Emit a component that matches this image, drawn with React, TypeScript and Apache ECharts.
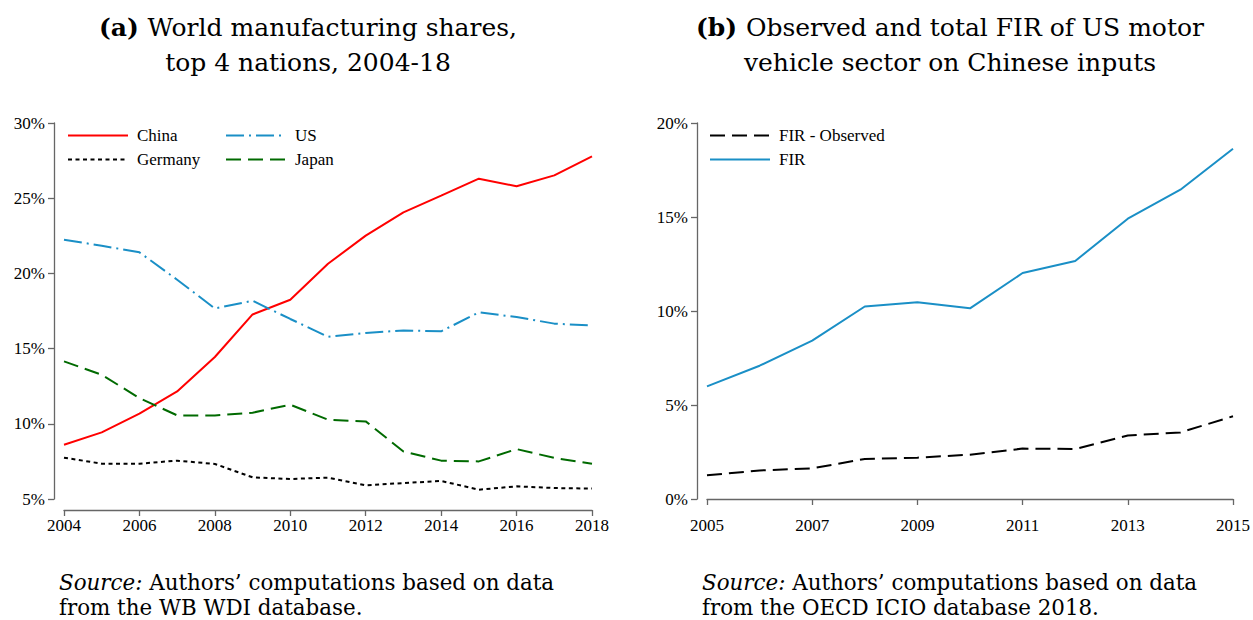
import React, { useEffect, useRef } from 'react';
import * as echarts from 'echarts';

const yearsA = ['2004','2005','2006','2007','2008','2009','2010','2011','2012','2013','2014','2015','2016','2017','2018'];
const china = [8.61, 9.43, 10.67, 12.15, 14.44, 17.27, 18.25, 20.64, 22.51, 24.06, 25.17, 26.30, 25.79, 26.52, 27.78];
const us = [22.24, 21.84, 21.4, 19.58, 17.67, 18.18, 16.97, 15.79, 16.04, 16.21, 16.15, 17.41, 17.1, 16.66, 16.54];
const germany = [7.75, 7.35, 7.35, 7.55, 7.33, 6.44, 6.33, 6.42, 5.91, 6.06, 6.2, 5.62, 5.84, 5.73, 5.69];
const japan = [14.15, 13.26, 11.71, 10.56, 10.56, 10.74, 11.27, 10.27, 10.16, 8.16, 7.55, 7.5, 8.32, 7.73, 7.35];

const yearsB = ['2005','2006','2007','2008','2009','2010','2011','2012','2013','2014','2015'];
const firObserved = [1.26, 1.52, 1.63, 2.13, 2.2, 2.36, 2.68, 2.66, 3.38, 3.54, 4.4];
const firTotal = [5.99, 7.09, 8.42, 10.24, 10.46, 10.14, 12.02, 12.66, 14.91, 16.45, 18.63];

const titleA = ['(a)', 'World manufacturing shares,', 'top 4 nations, 2004-18'];
const titleB = ['(b)', 'Observed and total FIR of US motor', 'vehicle sector on Chinese inputs'];
const sourceA = ['Source:', 'Authors’ computations based on data', 'from the WB WDI database.'];
const sourceB = ['Source:', 'Authors’ computations based on data', 'from the OECD ICIO database 2018.'];

const FONT = 'Liberation Serif';
const TFONT = 'DejaVu Serif';
const AXIS_COLOR = '#666666';
const TITLE_SIZE = 25;
const SOURCE_SIZE = 21.4;

function measure(text: string, font: string): number {
  const c = document.createElement('canvas').getContext('2d');
  if (!c) return text.length * 10;
  c.font = font;
  return c.measureText(text).width;
}

function axisX(gridIndex: number, data: string[]) {
  return {
    type: 'category',
    gridIndex,
    data,
    boundaryGap: false,
    offset: 11,
    axisLine: { lineStyle: { color: AXIS_COLOR, width: 1.3 } },
    axisTick: { interval: 1, length: 6, lineStyle: { color: AXIS_COLOR, width: 1.3 } },
    axisLabel: { interval: 1, margin: 7, color: '#000', fontFamily: FONT, fontSize: 17 },
    splitLine: { show: false },
  };
}

function axisY(gridIndex: number, min: number, max: number) {
  return {
    type: 'value',
    gridIndex,
    min,
    max,
    interval: 5,
    offset: 10,
    axisLine: { show: true, lineStyle: { color: AXIS_COLOR, width: 1.3 } },
    axisTick: { show: true, length: 6, lineStyle: { color: AXIS_COLOR, width: 1.3 } },
    axisLabel: { margin: 9, color: '#000', fontFamily: FONT, fontSize: 17, formatter: '{value}%' },
    splitLine: { show: false },
  };
}

function lineSeries(name: string, data: number[], xi: number, color: string, type: any) {
  return {
    type: 'line',
    name,
    data,
    xAxisIndex: xi,
    yAxisIndex: xi,
    symbol: 'none',
    lineStyle: { color, width: 2, type },
    itemStyle: { color },
  };
}

function legend(left: number, names: string[]) {
  return {
    left,
    top: 127,
    orient: 'vertical',
    padding: 0,
    itemWidth: 60,
    itemHeight: 14,
    itemGap: 7,
    itemStyle: { opacity: 0 },
    textStyle: { fontFamily: FONT, fontSize: 17, color: '#000', padding: [0, 0, 0, 4], lineHeight: 17 },
    data: names,
    selectedMode: false,
  };
}

function txt(text: string, x: number, y: number, size: number, opts: any) {
  return {
    type: 'text',
    x,
    y,
    style: {
      text,
      fontFamily: TFONT,
      fontSize: size,
      fontWeight: opts.weight || 'normal',
      fontStyle: opts.style || 'normal',
      fill: '#000',
      align: opts.align || 'left',
      verticalAlign: 'middle',
    },
  };
}

function titleGraphics(center: number, t: string[]) {
  const head = t[0] + ' ';
  const wb = measure(head, `bold ${TITLE_SIZE}px "${TFONT}"`);
  const wn = measure(t[1], `normal ${TITLE_SIZE}px "${TFONT}"`);
  const x0 = center - (wb + wn) / 2;
  return [
    txt(head, x0, 27, TITLE_SIZE, { weight: 'bold' }),
    txt(t[1], x0 + wb, 27, TITLE_SIZE, {}),
    txt(t[2], center, 62, TITLE_SIZE, { align: 'center' }),
  ];
}

function sourceGraphics(x: number, s: string[]) {
  const head = s[0] + ' ';
  const wi = measure(head, `italic ${SOURCE_SIZE}px "${TFONT}"`);
  return [
    txt(head, x, 582, SOURCE_SIZE, { style: 'italic' }),
    txt(s[1], x + wi, 582, SOURCE_SIZE, {}),
    txt(s[2], x, 607, SOURCE_SIZE, {}),
  ];
}

export default function App() {
  const ref = useRef<HTMLDivElement>(null);
  useEffect(() => {
    if (!ref.current) return;
    const chart = echarts.init(ref.current, undefined, { renderer: 'svg' });
    chart.setOption({
      animation: false,
      backgroundColor: '#ffffff',
      legend: [legend(67, ['China', 'Germany']), legend(225, ['US', 'Japan']), legend(709, ['FIR - Observed', 'FIR'])],
      grid: [
        { left: 64, top: 123, width: 528, height: 376 },
        { left: 707, top: 123, width: 528, height: 376 },
      ],
      xAxis: [axisX(0, yearsA), axisX(1, yearsB)],
      yAxis: [axisY(0, 5, 30), axisY(1, 0, 20)],
      series: [
        lineSeries('China', china, 0, '#ff0000', 'solid'),
        lineSeries('US', us, 0, '#1a8fc6', [18, 5, 2, 5]),
        lineSeries('Germany', germany, 0, '#000000', [4, 3.5]),
        lineSeries('Japan', japan, 0, '#006a00', [15, 7]),
        lineSeries('FIR - Observed', firObserved, 1, '#000000', [15, 7]),
        lineSeries('FIR', firTotal, 1, '#1a8fc6', 'solid'),
      ],
      graphic: [
        ...titleGraphics(308, titleA),
        ...titleGraphics(950, titleB),
        ...sourceGraphics(59, sourceA),
        ...sourceGraphics(702, sourceB),
      ],
    });
    return () => chart.dispose();
  }, []);
  return <div ref={ref} style={{ position: 'fixed', left: 0, top: 0, width: 1253, height: 620, background: '#fff' }} />;
}
